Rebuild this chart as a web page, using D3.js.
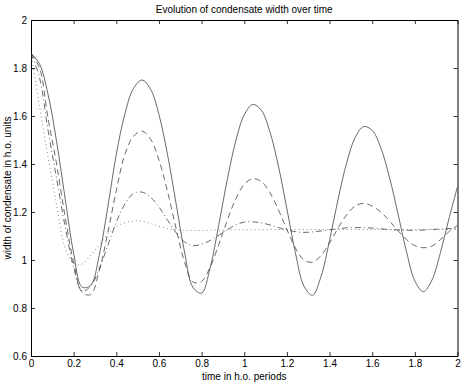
<!DOCTYPE html>
<html>
<head>
<meta charset="utf-8">
<script src="https://cdn.jsdelivr.net/npm/d3@7"></script>
<style>
  body { margin: 0; background: #fff; }
  svg { display: block; font-family: "Liberation Sans", Arial, Helvetica, sans-serif; }
</style>
</head>
<body>
<div id="chart"></div>
<script>
const width = 464
const height = 382
const margin = ({ top: 20, right: 6, bottom: 26, left: 31 })

// time axis (h.o. periods)
const times = [0, 0.04, 0.08, 0.12, 0.16, 0.2, 0.24, 0.28, 0.32, 0.36, 0.4, 0.44, 0.48, 0.52, 0.56, 0.6, 0.64, 0.68, 0.72, 0.76,
  0.8, 0.84, 0.88, 0.92, 0.96, 1, 1.04, 1.08, 1.12, 1.16, 1.2, 1.24, 1.28, 1.32, 1.36, 1.4, 1.44, 1.48, 1.52, 1.56,
  1.6, 1.64, 1.68, 1.72, 1.76, 1.8, 1.84, 1.88, 1.92, 1.96, 2]

// condensate widths, one array per curve
const widthSolid = [1.861, 1.817, 1.690, 1.494, 1.257, 1.028, 0.887, 0.895, 1.020, 1.220, 1.440, 1.608, 1.714, 1.750, 1.713, 1.606, 1.440, 1.237, 1.033, 0.885,
  0.862, 0.967, 1.144, 1.333, 1.495, 1.605, 1.648, 1.624, 1.535, 1.392, 1.213, 1.030, 0.891, 0.853, 0.931, 1.082, 1.253, 1.404, 1.510, 1.556,
  1.540, 1.468, 1.348, 1.196, 1.038, 0.913, 0.868, 0.916, 1.031, 1.172, 1.306]
const widthDashed = [1.861, 1.800, 1.590, 1.400, 1.180, 0.990, 0.865, 0.856, 0.955, 1.112, 1.290, 1.440, 1.515, 1.537, 1.505, 1.417, 1.286, 1.133, 0.992, 0.908,
  0.911, 0.970, 1.063, 1.165, 1.254, 1.315, 1.339, 1.327, 1.281, 1.210, 1.127, 1.050, 1.000, 0.991, 1.019, 1.071, 1.133, 1.188, 1.225, 1.236,
  1.225, 1.200, 1.164, 1.123, 1.086, 1.060, 1.051, 1.058, 1.085, 1.118, 1.145]
const widthDashDot = [1.861, 1.760, 1.540, 1.340, 1.140, 0.970, 0.870, 0.891, 0.964, 1.060, 1.157, 1.233, 1.277, 1.283, 1.262, 1.221, 1.167, 1.114, 1.075, 1.060,
  1.066, 1.081, 1.103, 1.126, 1.146, 1.158, 1.159, 1.155, 1.146, 1.135, 1.125, 1.118, 1.115, 1.117, 1.121, 1.126, 1.130, 1.134, 1.135, 1.135,
  1.133, 1.130, 1.127, 1.125, 1.124, 1.124, 1.125, 1.127, 1.129, 1.131, 1.132]
const widthDotted = [1.861, 1.640, 1.430, 1.230, 1.050, 0.985, 0.983, 1.020, 1.062, 1.108, 1.140, 1.155, 1.163, 1.162, 1.152, 1.140, 1.131, 1.126, 1.124, 1.123,
  1.123, 1.124, 1.125, 1.125, 1.126, 1.126, 1.126, 1.126, 1.127, 1.127, 1.127, 1.127, 1.127, 1.127, 1.127, 1.127, 1.127, 1.127, 1.127, 1.127,
  1.127, 1.127, 1.127, 1.127, 1.127, 1.127, 1.127, 1.127, 1.127, 1.127, 1.127]

const xTicks = [0, 0.2, 0.4, 0.6, 0.8, 1, 1.2, 1.4, 1.6, 1.8, 2]
const yTicks = [0.6, 0.8, 1, 1.2, 1.4, 1.6, 1.8, 2]

const curves = [
  { values: widthSolid, dash: null, color: '#2a2a2a' },
  { values: widthDashed, dash: '6,4', color: '#2a2a2a' },
  { values: widthDashDot, dash: '6,3,1,3', color: '#2a2a2a' },
  { values: widthDotted, dash: '1,3', color: '#555' }
]

const xScale = d3.scaleLinear()
  .domain([0, 2])
  .range([margin.left, width - margin.right - 0.5])

const yScale = d3.scaleLinear()
  .domain([0.6, 2])
  .range([height - margin.bottom, margin.top])

const svg = d3.select('#chart').append('svg')
  .attr('width', width)
  .attr('height', height)
  .attr('viewBox', `0 0 ${width} ${height}`)

svg.append('defs').append('clipPath')
  .attr('id', 'plot-clip')
  .append('rect')
  .attr('x', xScale(0))
  .attr('y', yScale(2))
  .attr('width', xScale(2) - xScale(0))
  .attr('height', yScale(0.6) - yScale(2))

const fmt = d => String(d)

// axes, MATLAB style: ticks pointing inward on all four sides
const axisB = svg.append('g')
  .attr('transform', 'translate(0,' + yScale(0.6) + ')')
  .call(d3.axisBottom(xScale).tickValues(xTicks).tickFormat(fmt).tickSizeInner(-4).tickSizeOuter(0).tickPadding(4))
const axisT = svg.append('g')
  .attr('transform', 'translate(0,' + yScale(2) + ')')
  .call(d3.axisTop(xScale).tickValues(xTicks).tickFormat('').tickSizeInner(-4).tickSizeOuter(0))
const axisL = svg.append('g')
  .attr('transform', 'translate(' + xScale(0) + ',0)')
  .call(d3.axisLeft(yScale).tickValues(yTicks).tickFormat(fmt).tickSizeInner(-4).tickSizeOuter(0).tickPadding(4))
const axisR = svg.append('g')
  .attr('transform', 'translate(' + xScale(2) + ',0)')
  .call(d3.axisRight(yScale).tickValues(yTicks).tickFormat('').tickSizeInner(-4).tickSizeOuter(0))

;[axisB, axisT, axisL, axisR].forEach(g => {
  g.selectAll('text')
    .attr('fill', '#000')
    .style('font-size', '10px')
    .style('font-family', '"Liberation Sans", Arial, sans-serif')
  g.selectAll('line').attr('stroke', '#000').attr('stroke-width', 0.8)
  g.select('.domain').attr('stroke', '#000').attr('stroke-width', 1)
})

const lineGenerator = d3.line()
  .x((d, i) => xScale(times[i]))
  .y(d => yScale(d))
  .curve(d3.curveCatmullRom.alpha(0.5))

svg.append('g')
  .attr('clip-path', 'url(#plot-clip)')
  .selectAll('path')
  .data(curves)
  .enter().append('path')
  .attr('d', d => lineGenerator(d.values))
  .attr('fill', 'none')
  .attr('stroke', d => d.color)
  .attr('stroke-width', 0.7)
  .attr('stroke-dasharray', d => d.dash)

// title and axis labels
svg.append('text')
  .attr('x', (xScale(0) + xScale(2)) / 2)
  .attr('y', 12.5)
  .attr('text-anchor', 'middle')
  .style('font-size', '10px')
  .text('Evolution of condensate width over time')

svg.append('text')
  .attr('x', (xScale(0) + xScale(2)) / 2)
  .attr('y', 380)
  .attr('text-anchor', 'middle')
  .style('font-size', '10px')
  .text('time in h.o. periods')

svg.append('text')
  .attr('transform', 'rotate(-90)')
  .attr('x', -(yScale(0.6) + yScale(2)) / 2)
  .attr('y', 11)
  .attr('text-anchor', 'middle')
  .style('font-size', '10px')
  .text('width of condensate in h.o. units')
</script>
</body>
</html>
